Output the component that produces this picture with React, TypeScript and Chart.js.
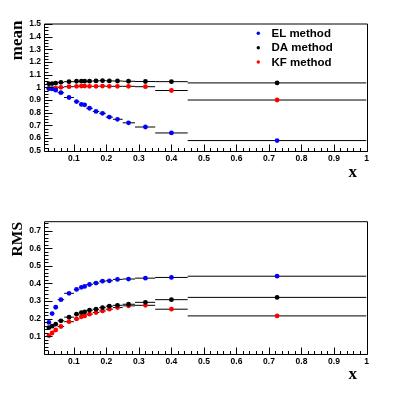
import React, { useEffect, useRef } from "react";
import { Chart, registerables } from "chart.js";

Chart.register(...registerables);

// ---- data ----
const xCenters = [0.023, 0.033, 0.044, 0.06, 0.085, 0.108, 0.123, 0.133, 0.148, 0.168, 0.188, 0.209, 0.234, 0.268, 0.32, 0.4, 0.725];
const binEdges = [0.018, 0.028, 0.038, 0.05, 0.07, 0.1, 0.117, 0.129, 0.138, 0.158, 0.178, 0.198, 0.22, 0.25, 0.288, 0.35, 0.45, 1.0];

const meanEL = [0.99, 0.988, 0.978, 0.958, 0.92, 0.888, 0.865, 0.862, 0.835, 0.81, 0.795, 0.765, 0.748, 0.72, 0.687, 0.64, 0.58];
const meanDA = [1.028, 1.03, 1.033, 1.04, 1.045, 1.048, 1.049, 1.049, 1.049, 1.051, 1.053, 1.051, 1.05, 1.048, 1.046, 1.045, 1.035];
const meanKF = [0.99, 0.99, 0.993, 1.0, 1.005, 1.008, 1.01, 1.01, 1.008, 1.008, 1.01, 1.008, 1.008, 1.008, 1.005, 0.975, 0.9];

const rmsEL = [0.179, 0.229, 0.265, 0.308, 0.344, 0.366, 0.378, 0.383, 0.394, 0.402, 0.413, 0.415, 0.423, 0.425, 0.43, 0.434, 0.441];
const rmsDA = [0.149, 0.158, 0.169, 0.188, 0.209, 0.226, 0.235, 0.239, 0.248, 0.254, 0.263, 0.271, 0.276, 0.282, 0.293, 0.308, 0.321];
const rmsKF = [0.104, 0.119, 0.136, 0.156, 0.183, 0.199, 0.211, 0.216, 0.226, 0.235, 0.244, 0.254, 0.263, 0.273, 0.276, 0.254, 0.216];

const seriesLabels = ["EL method", "DA method", "KF method"];
const seriesColors = ["#0000ff", "#000000", "#ff0000"];

const xTicks = [0.1, 0.2, 0.3, 0.4, 0.5, 0.6, 0.7, 0.8, 0.9, 1];
const meanTicks = [0.5, 0.6, 0.7, 0.8, 0.9, 1, 1.1, 1.2, 1.3, 1.4, 1.5];
const rmsTicks = [0.1, 0.2, 0.3, 0.4, 0.5, 0.6, 0.7];

const TICK_FONT = { family: "'Liberation Sans', Arial, sans-serif", size: 8.5, weight: "bold" as const };
const fmt = (v: number) => String(Math.round(v * 100) / 100);

const rootPlugin = {
  id: "rootDecor",
  beforeDatasetsDraw(chart: any, _a: any, opts: any) {
    const { ctx, chartArea: a, scales } = chart;
    const x = scales.x, y = scales.y;
    ctx.save();
    ctx.beginPath();
    ctx.rect(a.left, a.top, a.right - a.left, a.bottom - a.top);
    ctx.clip();
    ctx.strokeStyle = "#000";
    ctx.lineWidth = 1;
    chart.data.datasets.forEach((ds: any) => {
      ds.data.forEach((p: any, j: number) => {
        const py = y.getPixelForValue(p.y);
        ctx.beginPath();
        ctx.moveTo(x.getPixelForValue(binEdges[j]), py);
        ctx.lineTo(x.getPixelForValue(binEdges[j + 1]), py);
        ctx.stroke();
      });
    });
    ctx.restore();
  },
  afterDraw(chart: any, _a: any, opts: any) {
    const { ctx, chartArea: a, scales } = chart;
    const x = scales.x, y = scales.y;
    ctx.save();
    ctx.strokeStyle = "#000";
    ctx.lineWidth = 1;
    const L = Math.round(a.left) + 0.5;
    const R = Math.round(a.right) + 0.5;
    const B = Math.round(a.bottom) + 0.5;
    const T = a.top;
    ctx.beginPath();
    ctx.moveTo(L, T); ctx.lineTo(R, T); ctx.lineTo(R, B); ctx.lineTo(L, B); ctx.closePath();
    ctx.stroke();
    // y ticks
    const ymin = y.min, ymax = y.max;
    const ys = opts.yMinorStep;
    for (let k = Math.ceil(ymin / ys - 1e-6); k <= Math.floor(ymax / ys + 1e-6); k++) {
      const v = k * ys;
      const isMajor = Math.abs(v * 10 - Math.round(v * 10)) < 1e-6;
      const py = Math.round(y.getPixelForValue(v)) + 0.5;
      ctx.beginPath();
      ctx.moveTo(L, py);
      ctx.lineTo(L + (isMajor ? 8 : 4), py);
      ctx.stroke();
    }
    // x ticks
    const xs = 0.02;
    for (let k = Math.ceil(x.min / xs - 1e-6); k <= Math.floor(x.max / xs + 1e-6); k++) {
      const v = k * xs;
      const isMajor = k % 5 === 0;
      const px = Math.round(x.getPixelForValue(v)) + 0.5;
      ctx.beginPath();
      ctx.moveTo(px, B);
      ctx.lineTo(px, B - (isMajor ? 7 : 3.5));
      ctx.stroke();
    }
    // axis titles
    ctx.fillStyle = "#000";
    ctx.save();
    ctx.font = `bold ${opts.yTitleSize}px 'Liberation Serif', 'Times New Roman', serif`;
    ctx.translate(21.5, opts.yTitleTop);
    ctx.rotate(-Math.PI / 2);
    ctx.textAlign = "right";
    ctx.textBaseline = "alphabetic";
    ctx.fillText(opts.yTitle, 0, 0);
    ctx.restore();
    ctx.font = "bold 17px 'Liberation Serif', 'Times New Roman', serif";
    ctx.textAlign = "right";
    ctx.textBaseline = "alphabetic";
    ctx.fillText("x", 357, a.bottom + opts.xTitleOffset);
    // legend
    if (opts.legend) {
      const rows = [33.3, 47.7, 62];
      ctx.font = "bold 11.5px 'Liberation Sans', Arial, sans-serif";
      ctx.textAlign = "left";
      ctx.textBaseline = "middle";
      chart.data.datasets.forEach((ds: any, i: number) => {
        ctx.fillStyle = ds.backgroundColor;
        ctx.beginPath();
        ctx.arc(258.3, rows[i], 1.7, 0, Math.PI * 2);
        ctx.fill();
        ctx.fillStyle = "#000";
        ctx.fillText(ds.label, 271.5, rows[i] + 0.5);
      });
    }
    ctx.restore();
  },
};

function makeConfig(series: number[][], yTicks: number[], yMin: number, yMax: number, padTop: number, xAxisH: number, decor: any) {
  return {
    type: "scatter" as const,
    data: {
      datasets: series.map((vals, i) => ({
        label: seriesLabels[i],
        data: xCenters.map((xv, j) => ({ x: xv, y: vals[j] })),
        backgroundColor: seriesColors[i],
        borderColor: seriesColors[i],
        borderWidth: 0,
        pointRadius: 2.4,
        showLine: false,
      })),
    },
    options: {
      responsive: false,
      animation: false as const,
      events: [],
      layout: { padding: { left: 0, right: 43.5, top: padTop, bottom: 0 } },
      plugins: { legend: { display: false }, tooltip: { enabled: false }, rootDecor: decor },
      scales: {
        x: {
          type: "linear" as const,
          min: 0.008,
          max: 1,
          grid: { display: false, drawTicks: false, tickLength: 0 },
          border: { display: false },
          afterBuildTicks: (s: any) => { s.ticks = xTicks.map((v) => ({ value: v })); },
          afterFit: (s: any) => { s.height = xAxisH; },
          ticks: { font: TICK_FONT, color: "#000", padding: 2.5, maxRotation: 0, autoSkip: false, callback: (v: any) => fmt(Number(v)) },
        },
        y: {
          type: "linear" as const,
          min: yMin,
          max: yMax,
          grid: { display: false, drawTicks: false, tickLength: 0 },
          border: { display: false },
          afterBuildTicks: (s: any) => { s.ticks = yTicks.map((v) => ({ value: v })); },
          afterFit: (s: any) => { s.width = 44; },
          ticks: { font: TICK_FONT, color: "#000", padding: 3, autoSkip: false, callback: (v: any) => fmt(Number(v)) },
        },
      },
    },
    plugins: [rootPlugin],
  };
}

function Plot(props: { cfg: any; w: number; h: number }) {
  const ref = useRef<HTMLCanvasElement | null>(null);
  useEffect(() => {
    if (!ref.current) return;
    const c = new Chart(ref.current, props.cfg);
    return () => c.destroy();
  }, []);
  return <canvas ref={ref} width={props.w} height={props.h} style={{ display: "block", width: props.w, height: props.h }} />;
}

export default function App() {
  const topCfg = makeConfig([meanEL, meanDA, meanKF], meanTicks, 0.5, 1.5, 24, 49.3, {
    yTitle: "mean", yTitleSize: 17, yTitleTop: 20.5, yMinorStep: 0.025, legend: true, xTitleOffset: 26.3,
  });
  const botCfg = makeConfig([rmsEL, rmsDA, rmsKF], rmsTicks, 0, 0.75, 21.7, 43, {
    yTitle: "RMS", yTitleSize: 15.5, yTitleTop: 22, yMinorStep: 0.02, legend: false, xTitleOffset: 25,
  });
  return (
    <div style={{ position: "fixed", left: 0, top: 0, width: 410, height: 397, background: "#fff" }}>
      <div style={{ position: "absolute", left: 0, top: 0 }}>
        <Plot cfg={topCfg} w={410} h={200} />
      </div>
      <div style={{ position: "absolute", left: 0, top: 200 }}>
        <Plot cfg={botCfg} w={410} h={197} />
      </div>
    </div>
  );
}
